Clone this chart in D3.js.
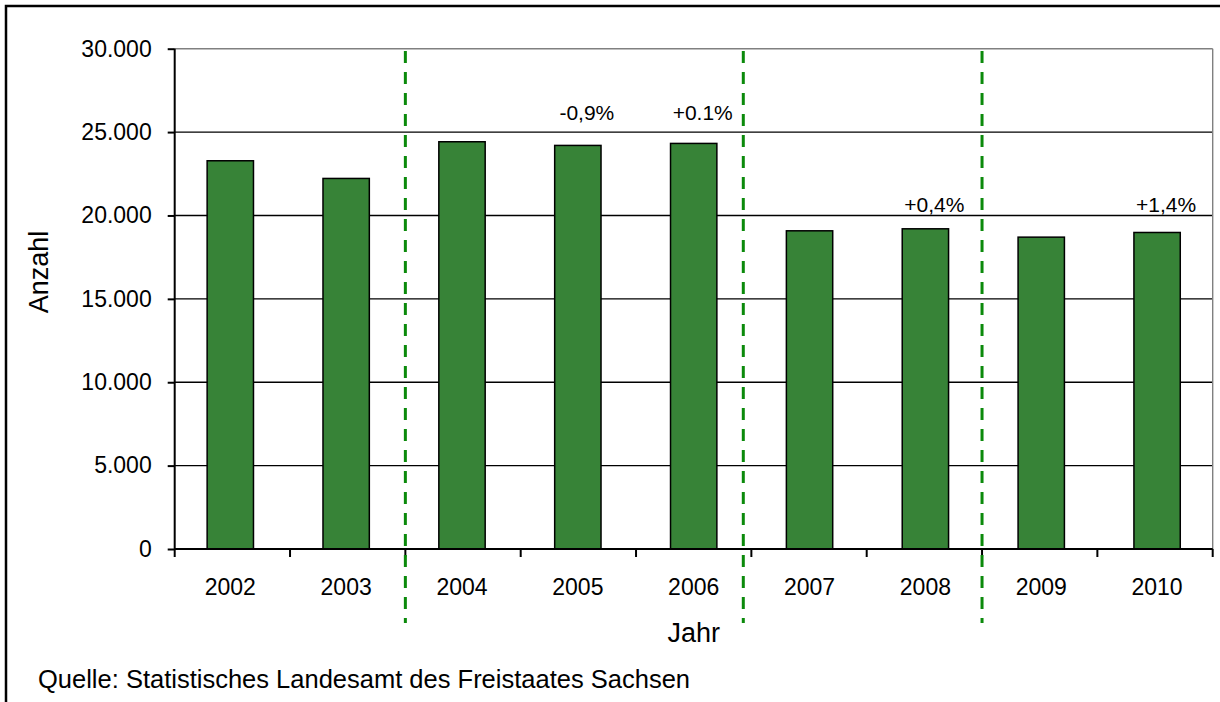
<!DOCTYPE html>
<html><head><meta charset="utf-8">
<script src="https://cdn.jsdelivr.net/npm/d3@7"></script>
<style>
html,body{margin:0;padding:0;background:#fff;}
svg{display:block;font-family:"Liberation Sans",Arial,sans-serif;}
</style></head>
<body>
<svg id="chart" width="1220" height="702"></svg>
<script>
// ---- data ----
const years = ["2002","2003","2004","2005","2006","2007","2008","2009","2010"];
const counts = [23280, 22220, 24420, 24200, 24320, 19080, 19200, 18700, 18980];
const yTicks = [0, 5000, 10000, 15000, 20000, 25000, 30000];
const annoYears = ["2005","2006","2008","2010"];
const annoTexts = ["-0,9%","+0.1%","+0,4%","+1,4%"];
const separators = [2, 4.93, 7]; // positions in category units
const yLabel = "Anzahl";
const xLabel = "Jahr";
const source = "Quelle: Statistisches Landesamt des Freistaates Sachsen";

// ---- layout ----
const L = 174.7, R = 1212.7, T = 48.7, B = 549;
const svg = d3.select("#chart");

const fmt = d3.formatLocale({decimal:",", thousands:".", grouping:[3], currency:["","€"]}).format(",.0f");

const x = d3.scaleBand().domain(years).range([L, R]).paddingInner(0.6).paddingOuter(0.28);
const xi = d3.scaleLinear().domain([0, years.length]).range([L, R]);
const y = d3.scaleLinear().domain([0, 30000]).range([B, T]);

// outer frame (extends beyond the visible area on the right/bottom)
svg.append("rect").attr("x", 6).attr("y", 6).attr("width", 1240).attr("height", 720)
  .attr("fill", "none").attr("stroke", "#000").attr("stroke-width", 2.5);

// gridlines
svg.append("g").selectAll("line").data(yTicks.filter(d => d > 0)).join("line")
  .attr("x1", L).attr("x2", R)
  .attr("y1", d => y(d)).attr("y2", d => y(d))
  .attr("stroke", d => d === 30000 ? "#808080" : "#000")
  .attr("stroke-width", 1.4);

// right plot border
svg.append("line").attr("x1", R).attr("x2", R).attr("y1", T).attr("y2", B)
  .attr("stroke", "#808080").attr("stroke-width", 1.4);

// bars
svg.append("g").selectAll("rect").data(years).join("rect")
  .attr("x", d => x(d))
  .attr("width", x.bandwidth())
  .attr("y", (d, i) => y(counts[i]))
  .attr("height", (d, i) => B - y(counts[i]))
  .attr("fill", "#378337")
  .attr("stroke", "#000").attr("stroke-width", 1.5);

// y axis
const yAxis = d3.axisLeft(y).tickValues(yTicks).tickFormat(fmt).tickSize(7).tickPadding(16);
const gy = svg.append("g").attr("transform", `translate(${L},0)`).call(yAxis);
gy.select(".domain").attr("stroke", "#000").attr("stroke-width", 2).attr("d", `M0,${T}V${B}`);
gy.selectAll(".tick line").attr("stroke", "#000").attr("stroke-width", 2);
gy.selectAll(".tick text").attr("font-size", 23).attr("fill", "#000")
  .attr("font-family", "'Liberation Sans',Arial,sans-serif");

// x axis line + ticks at category boundaries
svg.append("line").attr("x1", L).attr("x2", R).attr("y1", B).attr("y2", B)
  .attr("stroke", "#000").attr("stroke-width", 2);
svg.append("g").selectAll("line").data(d3.range(years.length + 1)).join("line")
  .attr("x1", d => xi(d)).attr("x2", d => xi(d))
  .attr("y1", B).attr("y2", B + 8)
  .attr("stroke", "#000").attr("stroke-width", 2);
svg.append("g").selectAll("text").data(years).join("text")
  .attr("x", d => x(d) + x.bandwidth() / 2)
  .attr("y", 595)
  .attr("text-anchor", "middle")
  .attr("font-size", 23)
  .text(d => d);

// dashed separators
svg.append("g").selectAll("line").data(separators).join("line")
  .attr("x1", d => xi(d)).attr("x2", d => xi(d))
  .attr("y1", 51).attr("y2", 623)
  .attr("stroke", "#0b8a0b").attr("stroke-width", 3)
  .attr("stroke-dasharray", "12,9");

// annotations: placed just above the gridline over each bar
svg.append("g").selectAll("text").data(annoYears).join("text")
  .attr("x", d => x(d) + x.bandwidth() / 2 + 9)
  .attr("y", (d, i) => {
    const v = counts[years.indexOf(d)];
    const grid = Math.ceil(v / 5000) * 5000;
    return y(grid) - (grid === 25000 ? 12 : 3.5);
  })
  .attr("text-anchor", "middle")
  .attr("font-size", 21)
  .text((d, i) => annoTexts[i]);

// axis titles
svg.append("text").attr("x", (L + R) / 2).attr("y", 642).attr("text-anchor", "middle")
  .attr("font-size", 27).text(xLabel);
svg.append("text").attr("transform", "translate(48,272) rotate(-90)").attr("text-anchor", "middle")
  .attr("font-size", 27).text(yLabel);

// source
svg.append("text").attr("x", 38).attr("y", 688).attr("font-size", 25.5).text(source);
</script>
</body></html>
